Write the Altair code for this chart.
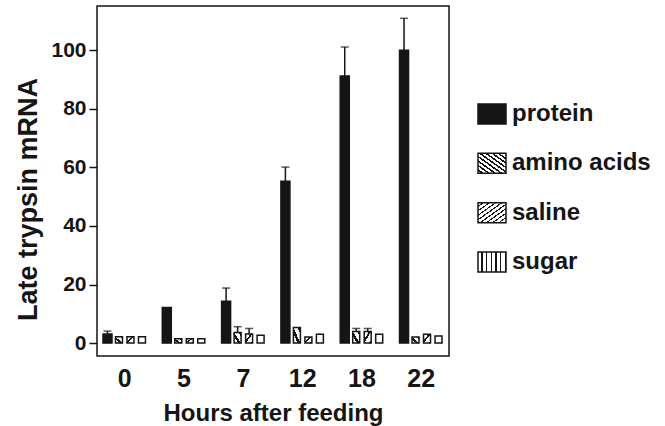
import altair as alt
import pandas as pd

FONT = "Liberation Sans"
INK = "#151515"

# ---- data ----
hours = ["0", "5", "7", "12", "18", "22"]
treatments = ["protein", "amino acids", "saline", "sugar"]

protein = [3.1, 12.2, 14.3, 55.3, 91.2, 100.0]
protein_err = [1.0, None, 4.5, 4.8, 9.9, 10.9]
amino = [2.2, 1.5, 3.6, 5.3, 4.0, 2.1]
amino_err = [None, None, 2.0, None, 1.0, None]
saline = [2.2, 1.5, 3.1, 2.1, 4.0, 3.0]
saline_err = [None, None, 1.9, None, 1.0, None]
sugar = [2.2, 1.5, 2.7, 3.0, 3.0, 2.4]
sugar_err = [None, None, None, None, None, None]

y_ticks = [0, 20, 40, 60, 80, 100]

series = {
    "protein": (protein, protein_err),
    "amino acids": (amino, amino_err),
    "saline": (saline, saline_err),
    "sugar": (sugar, sugar_err),
}
rows = []
for t in treatments:
    vals, errs = series[t]
    for h, v, e in zip(hours, vals, errs):
        rows.append({"hour": h, "treatment": t, "value": v, "err": e})
df = pd.DataFrame(rows)


def stripes(n, x1, y1, x2, y2, frac):
    stops = []
    for i in range(n):
        a = i / n
        b = (i + 1 - frac) / n
        c = (i + 1) / n
        stops += [
            {"offset": round(a, 4), "color": "white"},
            {"offset": round(b, 4), "color": "white"},
            {"offset": round(b, 4), "color": INK},
            {"offset": round(c, 4), "color": INK},
        ]
    return {"gradient": "linear", "x1": x1, "y1": y1, "x2": x2, "y2": y2, "stops": stops}


bar_fill = {
    "protein": INK,
    "amino acids": stripes(2, 0, 1, 1, 0, 0.4),
    "saline": stripes(2, 0, 0, 1, 1, 0.3),
    "sugar": stripes(1, 0, 0, 1, 0, 0.0),
}
legend_fill = {
    "protein": INK,
    "amino acids": stripes(9, 0, 1, 1, 0, 0.42),
    "saline": stripes(9, 0, 0, 1, 1, 0.3),
    "sugar": stripes(6, 0, 0, 1, 0, 0.3),
}
bar_width = {"protein": 9, "amino acids": 7, "saline": 7, "sugar": 7}

x_enc = alt.X(
    "hour:N",
    sort=hours,
    scale=alt.Scale(paddingInner=0.225, paddingOuter=0.08),
    axis=alt.Axis(
        title="Hours after feeding", labelAngle=0, ticks=False, domain=False,
        labelFont=FONT, labelFontSize=25, labelFontWeight="bold", labelColor=INK,
        labelPadding=10, titleFont=FONT, titleFontSize=24, titleFontWeight="bold",
        titleColor=INK, titlePadding=10,
    ),
)
xo_enc = alt.XOffset(
    "treatment:N", sort=treatments,
    scale=alt.Scale(domain=treatments, paddingInner=0, paddingOuter=0),
)
y_scale = alt.Scale(domain=[-4.4, 115.1], nice=False)
y_axis = alt.Axis(
    title="Late trypsin mRNA", values=y_ticks, grid=False, domain=False,
    tickSize=8, tickWidth=1.5, tickColor=INK,
    labelFont=FONT, labelFontSize=21, labelFontWeight="bold", labelColor=INK,
    labelPadding=3, titleFont=FONT, titleFontSize=27, titleFontWeight="bold",
    titleColor=INK, titlePadding=8, titleY=193,
)

base = alt.Chart(df)
layers = []
for t in treatments:
    layers.append(
        base.transform_filter(alt.datum.treatment == t)
        .mark_bar(width=bar_width[t], fill=bar_fill[t], stroke=INK, strokeWidth=1.5)
        .encode(x=x_enc, xOffset=xo_enc, y=alt.Y("value:Q", scale=y_scale, axis=y_axis))
    )

err_base = base.transform_filter("datum.err != null").transform_calculate(
    top="datum.value + datum.err"
)
rule = err_base.mark_rule(color=INK, strokeWidth=1.5).encode(
    x=x_enc, xOffset=xo_enc,
    y=alt.Y("value:Q", scale=y_scale, axis=y_axis), y2="top:Q",
)
cap = err_base.mark_tick(orient="horizontal", size=8, thickness=1.5, color=INK).encode(
    x=x_enc, xOffset=xo_enc, y=alt.Y("top:Q", scale=y_scale, axis=y_axis),
)

main = alt.layer(*layers, rule, cap).properties(
    width=352, height=350,
    view=alt.ViewBackground(stroke=INK, strokeWidth=1.5),
)

# ---- legend panel ----
leg_df = pd.DataFrame({"treatment": treatments})
leg_y = alt.Y(
    "treatment:N", sort=treatments, axis=None,
    scale=alt.Scale(domain=treatments, range=[98, 266], paddingInner=0.594, paddingOuter=0),
)
leg_base = alt.Chart(leg_df)
leg_layers = []
for t in treatments:
    leg_layers.append(
        leg_base.transform_filter(alt.datum.treatment == t)
        .mark_rect(fill=legend_fill[t], stroke=INK, strokeWidth=1.5)
        .encode(x=alt.value(0), x2=alt.value(28), y=leg_y)
    )
leg_text = leg_base.mark_text(
    align="left", baseline="middle", font=FONT, fontSize=24, fontWeight="bold", color=INK
).encode(x=alt.value(34), y=leg_y, text="treatment:N")

legend = alt.layer(*leg_layers, leg_text).properties(width=180, height=350)

chart = (
    alt.hconcat(main, legend, spacing=26)
    .properties(padding={"left": 14, "top": 5, "right": 0, "bottom": 0})
    .configure_view(stroke="transparent")
)

chart.save("out.html", embed_options={"renderer": "svg", "actions": False})
